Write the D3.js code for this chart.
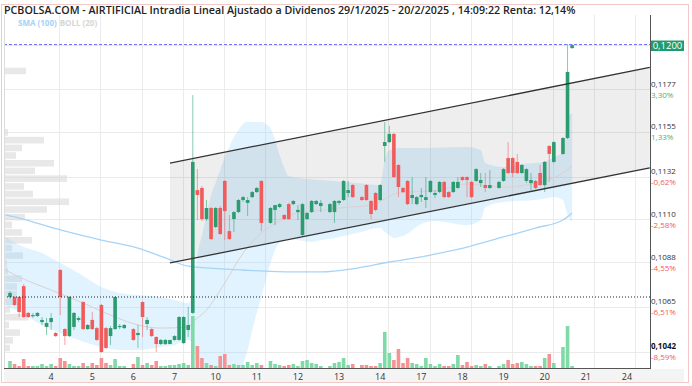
<!DOCTYPE html>
<html lang="es">
<head>
<meta charset="UTF-8">
<title>AIRTIFICIAL intradia</title>
<style>
  body { margin: 0; background: #fff; }
  svg { display: block; font-family: "Open Sans", sans-serif; }
  .grid line { stroke: #ebebeb; stroke-width: 1; shape-rendering: crispEdges; }
  .ylab { font-size: 8px; fill: #333; }
  .xlab { font-size: 9px; fill: #333; text-anchor: middle; }
</style>
</head>
<body>
<svg id="chart" width="692" height="386"></svg>
<script src="https://d3js.org/d3.v7.min.js"></script>
<script>
// hourly candles, one slot each (null = no trades in that slot)
const open = [0.10701,0.10701,0.10701,0.10757,0.10619,0.10603,0.10603,0.10572,0.10547,0.10572,
  0.10516,0.10840,0.10536,0.10500,0.10547,0.10583,0.10675,0.10536,0.10583,0.10541,
  0.10660,0.10541,0.10500,0.10536,0.10547,0.10541,null,0.10536,0.10505,0.10675,
  0.10562,0.10536,0.10495,0.10459,0.10459,0.10459,0.10480,0.10480,0.10464,0.10531,
  0.10619,0.11251,0.11262,0.11102,0.11159,0.11061,0.11159,0.11298,0.11040,0.11102,
  0.11138,0.11200,0.11185,0.11215,0.11241,0.11298,null,0.11082,0.11149,0.11164,
  0.11123,0.11179,0.11179,0.11138,0.11020,0.11102,0.11138,0.11179,0.11169,null,
  0.11138,0.11138,0.11185,0.11200,0.11236,0.11277,null,0.11215,0.11277,0.11195,
  0.11236,0.11200,0.11478,0.11498,0.11540,0.11380,0.11262,0.11298,0.11210,0.11179,
  0.11215,0.11200,0.11241,0.11226,0.11241,0.11293,0.11241,0.11241,0.11262,0.11318,
  0.11318,0.11293,0.11298,0.11287,0.11277,0.11262,null,0.11262,0.11298,0.11416,
  0.11416,0.11396,0.11339,0.11298,0.11287,0.11298,0.11339,0.11277,0.11478,0.11396,
  null,0.11437,0.11519,0.11982];
const high = [0.10732,0.10706,0.10706,0.10768,0.10624,0.10619,0.10624,0.10598,0.10593,0.10619,
  0.10521,0.10845,0.10541,0.10706,0.10624,0.10603,0.10680,0.10562,0.10624,0.10547,
  0.10665,0.10547,0.10552,0.10706,0.10562,0.10562,null,0.10541,0.10557,0.10680,
  0.10598,0.10541,0.10500,0.10485,0.10485,0.10480,0.10505,0.10603,0.10603,0.10650,
  0.11740,0.11359,0.11272,0.11200,0.11164,0.11164,0.11169,0.11303,0.11123,0.11143,
  0.11205,0.11221,0.11215,0.11246,0.11267,0.11303,null,0.11164,0.11174,0.11185,
  0.11128,0.11185,0.11200,0.11174,0.11185,0.11138,0.11200,0.11200,0.11200,null,
  0.11185,0.11200,0.11200,0.11303,0.11298,0.11282,null,0.11221,0.11282,0.11200,
  0.11241,0.11282,0.11601,0.11581,0.11545,0.11385,0.11267,0.11303,0.11318,0.11221,
  0.11262,0.11318,0.11303,0.11251,0.11298,0.11298,0.11246,0.11298,0.11318,0.11323,
  0.11323,0.11298,0.11364,0.11339,0.11339,0.11354,null,0.11298,0.11364,0.11498,
  0.11421,0.11437,0.11385,0.11364,0.11339,0.11303,0.11380,0.11401,0.11483,0.11503,
  null,0.11524,0.12003,0.12003];
const low = [0.10691,0.10655,0.10598,0.10593,0.10593,0.10593,0.10598,0.10557,0.10505,0.10531,
  0.10495,0.10608,0.10454,0.10495,0.10531,0.10572,0.10531,0.10531,0.10531,0.10475,
  0.10413,0.10433,0.10454,0.10531,0.10536,0.10536,null,0.10475,0.10439,0.10495,
  0.10531,0.10495,0.10418,0.10454,0.10454,0.10459,0.10475,0.10475,0.10459,0.10495,
  0.10613,0.11097,0.11092,0.11092,0.10994,0.11056,0.11020,0.10994,0.10994,0.11035,
  0.11133,0.11190,0.11118,0.11210,0.11236,0.11040,null,0.11077,0.11071,0.11159,
  0.11097,0.11097,0.11174,0.11097,0.11015,0.11097,0.11133,0.11174,0.11138,null,
  0.11133,0.11082,0.11174,0.11195,0.11215,0.11210,null,0.11195,0.11195,0.11102,
  0.11143,0.11195,0.11396,0.11493,0.11313,0.11215,0.11236,0.11174,0.11179,0.11174,
  0.11190,0.11159,0.11236,0.11210,0.11236,0.11210,0.11210,0.11236,0.11257,0.11298,
  0.11215,0.11210,0.11293,0.11267,0.11241,0.11257,null,0.11257,0.11293,0.11334,
  0.11318,0.11334,0.11334,0.11287,0.11251,0.11257,0.11272,0.11241,0.11293,0.11390,
  null,0.11432,0.11514,0.11977];
const close = [0.10722,0.10660,0.10624,0.10598,0.10598,0.10608,0.10619,0.10583,0.10567,0.10593,
  0.10500,0.10701,0.10500,0.10701,0.10619,0.10593,0.10536,0.10557,0.10536,0.10480,
  0.10418,0.10439,0.10541,0.10701,0.10552,0.10557,null,0.10480,0.10516,0.10598,
  0.10583,0.10500,0.10459,0.10480,0.10480,0.10480,0.10500,0.10598,0.10598,0.10557,
  0.11396,0.11226,0.11102,0.11159,0.10999,0.11159,0.11025,0.11143,0.10999,0.11138,
  0.11200,0.11215,0.11200,0.11241,0.11262,0.11082,null,0.11159,0.11174,0.11179,
  0.11102,0.11102,0.11195,0.11149,0.11179,0.11133,0.11195,0.11195,0.11185,null,
  0.11179,0.11195,0.11195,0.11298,0.11251,0.11215,null,0.11200,0.11200,0.11128,
  0.11149,0.11277,0.11498,0.11540,0.11318,0.11267,0.11241,0.11179,0.11226,0.11215,
  0.11226,0.11215,0.11298,0.11236,0.11293,0.11215,0.11215,0.11293,0.11293,0.11303,
  0.11303,0.11215,0.11359,0.11303,0.11262,0.11277,null,0.11293,0.11359,0.11339,
  0.11339,0.11339,0.11380,0.11359,0.11303,0.11262,0.11277,0.11396,0.11437,0.11498,
  null,0.11519,0.11859,0.11997];
const volume = [700,400,200,900,200,200,200,400,200,400,
  200,1000,700,400,200,200,500,200,500,300,
  1000,500,300,900,200,200,0,400,1100,300,
  500,300,700,200,200,300,300,400,500,300,
  5200,2200,1000,500,300,200,1200,1400,300,400,
  300,300,600,300,500,300,0,700,400,300,
  200,300,400,200,700,800,500,400,200,0,
  200,500,600,1000,300,400,0,300,300,200,
  200,500,3600,1500,800,1900,500,1000,500,400,
  200,1000,400,200,400,200,200,400,1300,300,
  600,200,300,200,400,200,0,200,400,800,
  400,500,600,400,200,200,200,1000,1400,500,
  0,2100,4200,200];

// session days on the time axis
const days = ["4","5","6","7","10","11","12","13","14","17","18","19","20","21","24"];

// price axis
const priceTicks = [0.1042,0.1065,0.1088,0.1110,0.1132,0.1155,0.1177,0.1200];
const pctLabels = ["-8,59%","-6,51%","-4,55%","-2,58%","-0,62%","1,33%","3,30%",""];
const lastPrice = 0.1200;
const refPrice = 0.10701;

// indicators: [slot, price]
const sma100 = [[-1,0.11123],[2,0.11107],[11,0.11046],[20,0.10994],[28,0.10953],[34,0.10902],
  [39,0.10860],[51,0.10840],[62,0.10830],[68,0.10830],[76,0.10850],[83,0.10881],[90,0.10907],
  [94,0.10927],[100,0.10958],[108,0.11010],[115,0.11056],[121,0.11097],[123,0.11133]];
const bollUp = [[-1,0.11010],[2,0.10969],[7,0.10927],[11,0.10876],[15,0.10824],[20,0.10752],
  [24,0.10722],[28,0.10711],[33,0.10701],[39,0.10670],[40,0.10737],[41,0.10917],[42,0.11020],
  [43,0.11123],[44,0.11226],[45,0.11287],[46,0.11354],[47,0.11421],[48,0.11473],[49,0.11524],
  [50,0.11560],[51,0.11591],[52,0.11601],[55,0.11601],[56,0.11591],[57,0.11570],[58,0.11509],
  [59,0.11431],[60,0.11365],[61,0.11323],[63,0.11313],[68,0.11303],[76,0.11287],[81,0.11277],
  [82,0.11406],[83,0.11457],[85,0.11468],[90,0.11468],[100,0.11473],[103,0.11457],[104,0.11390],
  [108,0.11370],[112,0.11385],[115,0.11390],[118,0.11406],[121,0.11447],[122,0.11622],[123,0.11648]];
const bollLow = [[-1,0.10660],[2,0.10624],[7,0.10557],[11,0.10516],[15,0.10480],[20,0.10444],
  [24,0.10428],[28,0.10428],[33,0.10444],[36,0.10454],[39,0.10480],[40,0.10454],[41,0.10315],
  [42,0.10222],[44,0.10161],[46,0.10145],[49,0.10171],[50,0.10248],[51,0.10351],[52,0.10428],
  [53,0.10531],[54,0.10619],[55,0.10701],[56,0.10788],[57,0.10876],[58,0.10943],[59,0.10979],
  [60,0.10994],[61,0.10999],[63,0.10994],[66,0.10984],[72,0.11010],[81,0.11056],[82,0.11035],
  [84,0.11004],[86,0.11015],[90,0.11077],[93,0.11092],[100,0.11071],[103,0.11097],[104,0.11164],
  [108,0.11190],[115,0.11200],[119,0.11215],[121,0.11200],[122,0.11123],[123,0.11087]];
const bollMid = [[-1,0.10840],[2,0.10804],[9,0.10737],[16,0.10670],[23,0.10598],[28,0.10557],
  [33,0.10541],[39,0.10547],[40,0.10572],[43,0.10634],[47,0.10773],[51,0.10927],[55,0.11030],
  [59,0.11092],[62,0.11128],[65,0.11138],[72,0.11159],[79,0.11174],[85,0.11236],[94,0.11251],
  [100,0.11282],[108,0.11267],[115,0.11287],[121,0.11339],[123,0.11375]];

// trend channel drawn on the chart: [slot, price]
const channelTop = [[35,0.11390],[140,0.11882]];
const channelBot = [[35,0.10876],[140,0.11365]];

// volume profile (bin centre price, volume)
const profPrice = [0.10439,0.10478,0.10518,0.10557,0.10597,0.10637,0.10676,0.10716,0.10755,0.10795,
  0.10835,0.10874,0.10914,0.10953,0.10993,0.11033,0.11072,0.11112,0.11151,0.11191,
  0.11231,0.11270,0.11310,0.11350,0.11389,0.11429,0.11468,0.11508,0.11548,0.11864];
const profVol = [60,90,160,50,240,60,100,130,130,180,
  40,30,190,80,280,180,80,210,430,650,
  290,200,630,310,500,120,180,400,40,220];

const svg = d3.select("#chart");
const L = 4, R = 650, T = 15, B = 368;

const x = d3.scaleLinear().domain([0, 140]).range([10, 649.8]);
const y = d3.scaleLinear().domain([0.10418, 0.11995]).range([352, 45.5]);
const yVol = d3.scaleLinear().domain([0, 5200]).range([B, B - 52]);
const xProf = d3.scaleLinear().domain([0, 650]).range([L, L + 65]);
const binH = Math.abs(y(0.10439) - y(0.10478));

const up = "#2c9c70", down = "#f25b5b";

// frame + bottom strip
svg.append("rect").attr("x", 0).attr("y", 0).attr("width", 692).attr("height", 386).attr("fill", "#fff");
svg.append("rect").attr("x", L).attr("y", B + 1).attr("width", 684 - L).attr("height", 13).attr("fill", "#f4f4f4");
svg.append("rect").attr("x", 1.5).attr("y", 4.5).attr("width", 687).attr("height", 378)
  .attr("fill", "none").attr("stroke", "#f1c9c9");

const defs = svg.append("defs");
defs.append("clipPath").attr("id", "plot")
  .append("rect").attr("x", L).attr("y", T).attr("width", R - L).attr("height", B - T);

// grid
const grid = svg.append("g").attr("class", "grid");
grid.selectAll("line.h").data(priceTicks).join("line")
  .attr("x1", L).attr("x2", R).attr("y1", d => Math.round(y(d)) + 0.5).attr("y2", d => Math.round(y(d)) + 0.5);
grid.selectAll("line.v").data(days).join("line")
  .attr("x1", (d, k) => Math.round(x(10.8 + 9 * k)) + 0.5).attr("x2", (d, k) => Math.round(x(10.8 + 9 * k)) + 0.5)
  .attr("y1", T).attr("y2", B);

const g = svg.append("g").attr("clip-path", "url(#plot)");

// volume profile
g.append("g").selectAll("rect").data(profPrice).join("rect")
  .attr("x", L)
  .attr("y", d => y(d) - binH / 2 + 0.5)
  .attr("width", (d, k) => xProf(profVol[k]) - L)
  .attr("height", binH - 1)
  .attr("fill", "#d9d9d9").attr("opacity", 0.6);

// bollinger band
const slots = Array.from(new Set(bollLow.map(d => d[0]).concat(bollUp.map(d => d[0])))).sort((a, b) => a - b);
const upI = d3.scaleLinear().domain(bollUp.map(d => d[0])).range(bollUp.map(d => d[1]));
const loI = d3.scaleLinear().domain(bollLow.map(d => d[0])).range(bollLow.map(d => d[1]));
g.append("path")
  .datum(slots)
  .attr("d", d3.area().x(s => x(s)).y0(s => y(loI(s))).y1(s => y(upI(s))).curve(d3.curveMonotoneX))
  .attr("fill", "#87cefa").attr("opacity", 0.25);

// channel fill
g.append("path")
  .attr("d", `M${x(channelTop[0][0])},${y(channelTop[0][1])}L${x(channelTop[1][0])},${y(channelTop[1][1])}` +
    `L${x(channelBot[1][0])},${y(channelBot[1][1])}L${x(channelBot[0][0])},${y(channelBot[0][1])}Z`)
  .attr("fill", "#000").attr("opacity", 0.065);

const line = d3.line().x(d => x(d[0])).y(d => y(d[1])).curve(d3.curveMonotoneX);
g.append("path").datum(bollMid).attr("d", line).attr("fill", "none").attr("stroke", "#dcd0d0").attr("stroke-width", 1);
g.append("path").datum(sma100).attr("d", line).attr("fill", "none").attr("stroke", "#a7d4f6").attr("stroke-width", 1.3);

// candles
const candles = d3.range(open.length).filter(i => open[i] != null)
  .map(i => ({ i, o: open[i], h: high[i], l: low[i], c: close[i], v: volume[i] }));

g.append("g").selectAll("rect").data(candles.filter(d => d.v > 0)).join("rect")
  .attr("x", d => x(d.i) - 1.8).attr("width", 3.6)
  .attr("y", d => yVol(d.v)).attr("height", d => B - yVol(d.v))
  .attr("fill", d => d.c >= d.o ? "#7fdaa8" : "#f59393");

const cg = g.append("g");
cg.selectAll("line").data(candles).join("line")
  .attr("x1", d => x(d.i)).attr("x2", d => x(d.i))
  .attr("y1", d => y(d.h)).attr("y2", d => y(d.l))
  .attr("stroke", d => d.c >= d.o ? up : down).attr("stroke-opacity", 0.55).attr("stroke-width", 1);
cg.selectAll("rect").data(candles).join("rect")
  .attr("x", d => x(d.i) - 1.8).attr("width", 3.6)
  .attr("y", d => y(Math.max(d.o, d.c)))
  .attr("height", d => Math.max(1.2, Math.abs(y(d.o) - y(d.c))))
  .attr("fill", d => d.c >= d.o ? up : down);

// channel lines
[channelTop, channelBot].forEach(c => {
  g.append("path").datum(c).attr("d", d3.line().x(d => x(d[0])).y(d => y(d[1])))
    .attr("stroke", "#333").attr("stroke-width", 1.3).attr("fill", "none");
});

// reference lines
g.append("line").attr("x1", L).attr("x2", R).attr("y1", y(refPrice)).attr("y2", y(refPrice))
  .attr("stroke", "#222").attr("stroke-dasharray", "1,2");
g.append("line").attr("x1", L).attr("x2", R).attr("y1", y(lastPrice)).attr("y2", y(lastPrice))
  .attr("stroke", "#6f6fff").attr("stroke-dasharray", "3,2");

// axes lines
svg.append("line").attr("x1", L + 0.5).attr("x2", L + 0.5).attr("y1", T).attr("y2", B).attr("stroke", "#ddd");
svg.append("line").attr("x1", R + 0.5).attr("x2", R + 0.5).attr("y1", T).attr("y2", B + 1).attr("stroke", "#555");
svg.append("line").attr("x1", L).attr("x2", R + 1).attr("y1", B + 0.5).attr("y2", B + 0.5).attr("stroke", "#555");

// y labels (top tick sits under the last price tag)
const fmt = v => d3.format(".4f")(v).replace(".", ",");
const shown = priceTicks.slice(0, -1);
const yl = svg.append("g");
yl.selectAll("text.p").data(shown).join("text").attr("class", "ylab")
  .attr("x", 651).attr("y", d => y(d) - 2.5)
  .attr("font-weight", (d, k) => k === 0 ? 700 : 400)
  .style("fill", (d, k) => k === 0 ? "#111" : "#333")
  .text(fmt);
yl.selectAll("text.q").data(shown).join("text").attr("class", "ylab")
  .attr("x", 651).attr("y", d => y(d) + 8.5)
  .style("fill", (d, k) => pctLabels[k].startsWith("-") ? "#f45a5a" : "#3cb67c")
  .text((d, k) => pctLabels[k]);

// last price tag
svg.append("rect").attr("x", 651).attr("y", y(lastPrice) - 4).attr("width", 33).attr("height", 10.5).attr("fill", "#1f9c6e");
svg.append("text").attr("x", 667.5).attr("y", y(lastPrice) + 4.5).attr("text-anchor", "middle")
  .attr("font-size", "9.5px").attr("fill", "#fff").text(fmt(lastPrice));

// x labels
svg.append("g").selectAll("text").data(days).join("text").attr("class", "xlab")
  .attr("x", (d, k) => x(9 + 9 * k)).attr("y", 380).text(d => d);

// title + legend
svg.append("text").attr("x", 4).attr("y", 13.5).attr("font-size", "10.7px").attr("font-weight", 600).attr("fill", "#222")
  .text("PCBOLSA.COM - AIRTIFICIAL Intradia Lineal Ajustado a Dividenos 29/1/2025 - 20/2/2025 , 14:09:22 Renta: 12,14%");
const sma = svg.append("text").attr("x", 18).attr("y", 26).attr("font-size", "8px").attr("font-weight", 700)
  .attr("fill", "#a3d3f5").text("SMA (100)");
const smaW = sma.node().getComputedTextLength();
svg.append("text").attr("x", 18 + smaW + 3).attr("y", 26).attr("font-size", "8px").attr("font-weight", 700)
  .attr("fill", "#d6d6d6").text("BOLL (20)");
</script>
</body>
</html>
